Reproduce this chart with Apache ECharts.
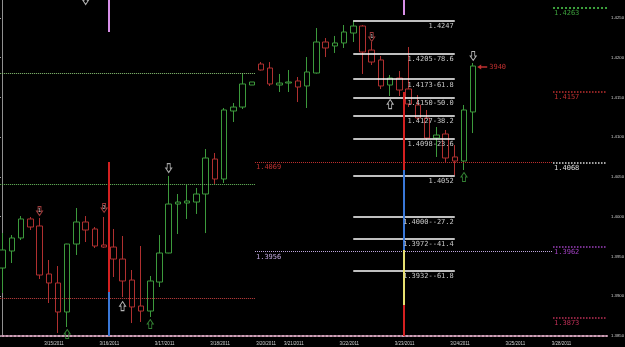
<!DOCTYPE html>
<html><head><meta charset="utf-8">
<script src="https://cdn.jsdelivr.net/npm/echarts@6/dist/echarts.min.js"></script>
<style>html,body{margin:0;padding:0;background:#000;}#c{width:625px;height:347px;}</style>
</head><body><div id="c"></div>
<script>
// ---- data (4H bars) : [open, close, low, high]
const candles = [
 [1.39355,1.39582,1.39041,1.39795],[1.39569,1.39733,1.39418,1.39770],[1.39733,1.39972,1.39707,1.40009],
 [1.39972,1.39871,1.39833,1.39997],[1.39884,1.39267,1.39217,1.39984],[1.39280,1.39167,1.38915,1.39456],
 [1.39167,1.38802,1.38538,1.39380],[1.38802,1.39657,1.38613,1.39660],[1.39657,1.39934,1.39519,1.40110],
 [1.39934,1.39833,1.39682,1.40009],[1.39846,1.39632,1.39607,1.39871],[1.39645,1.39619,1.39610,1.39997],
 [1.39619,1.39468,1.39242,1.39846],[1.39468,1.39192,1.38990,1.39758],[1.39204,1.38865,1.38663,1.39330],
 [1.38877,1.38814,1.38676,1.39632],[1.38814,1.39192,1.38739,1.39255],[1.39179,1.39544,1.39116,1.39770],
 [1.39544,1.40160,1.39540,1.40513],[1.40160,1.40185,1.39783,1.40286],[1.40173,1.40198,1.39972,1.40399],
 [1.40185,1.40286,1.40035,1.40362],[1.40286,1.40739,1.39795,1.40852],[1.40726,1.40475,1.40412,1.40802],
 [1.40475,1.41343,1.40424,1.41368],[1.41330,1.41380,1.41192,1.41431],[1.41380,1.41670,1.41355,1.41808],
 [1.41657,1.41695,1.41657,1.41695],[1.41921,1.41846,1.41840,1.41946],[1.41871,1.41670,1.41645,1.41946],
 [1.41657,1.41682,1.41569,1.41796],[1.41682,1.41695,1.41569,1.41846],[1.41708,1.41632,1.41443,1.41758],
 [1.41645,1.41821,1.41368,1.42009],[1.41808,1.42198,1.41800,1.42374],[1.42198,1.42123,1.42009,1.42248],
 [1.42148,1.42186,1.42060,1.42274],[1.42186,1.42324,1.42123,1.42412],[1.42311,1.42399,1.42198,1.42470],
 [1.42399,1.42072,1.41796,1.42412],[1.42097,1.41946,1.41909,1.42198],[1.41972,1.41645,1.41607,1.42022],
 [1.41657,1.41745,1.41519,1.41783],[1.41745,1.41594,1.41519,1.41833],[1.41607,1.41418,1.41380,1.42135],
 [1.41406,1.41242,1.41217,1.41531],[1.41242,1.40990,1.40965,1.41343],[1.40990,1.41028,1.40752,1.41129],
 [1.41041,1.40739,1.40689,1.41091],[1.40752,1.40701,1.40520,1.40902],[1.40701,1.41343,1.40588,1.41406],
 [1.41318,1.41896,1.41053,1.41934]
];
const nSlots = 66;
const yMin = 1.3850, yMax = 1.427264, yStep = 0.005;
const dateSlots  = [5, 11, 17, 23, 28, 31, 37, 43, 49, 55, 60];
const dateLabels = ['3/15/2011','3/16/2011','3/17/2011','3/18/2011','3/20/2011','3/21/2011','3/22/2011','3/23/2011','3/24/2011','3/25/2011','3/28/2011'];

// horizontal levels (price, colour, label)
const leftSpan  = [0.2, 27.85];
const leftPrices = [1.4180, 1.4041, 1.3897];
const leftColors = ['#8cc878', '#6cc060', '#c84040'];
const midSpan  = [27.85, 60.15];
const midPrices = [1.4069, 1.3956];
const midColors = ['#c03030', '#c0a8e0'];
const midLabels = ['1.4069', '1.3956'];
const rightSpan = [60.15, 66];
const rightPrices = [1.4263, 1.4157, 1.4068, 1.3962, 1.3873];
const rightColors = ['#3ca03c', '#c03030', '#e0e0e0', '#a040c0', '#c03058'];
const rightLabels = ['1.4263', '1.4157', '1.4068', '1.3962', '1.3873'];
// fibonacci levels
const fibSpan = [38.5, 49.5];
const fibPrices = [1.4247, 1.4205, 1.4173, 1.4150, 1.4127, 1.4098, 1.4052, 1.4000, 1.3972, 1.3932];
const fibLabels = ['1.4247','1.4205-78.6','1.4173-61.8','1.4150-50.0','1.4127-38.2','1.4098-23.6','1.4052','1.4000--27.2','1.3972--41.4','1.3932--61.8'];
// vertical coloured segments: slot, from price, to price, colour
const vSlots  = [12, 12, 12, 44, 44, 44, 44, 44];
const vFrom   = [yMax, 1.40689, 1.39053, yMax, 1.41569, 1.40588, 1.39582, 1.38890];
const vTo     = [1.42324, 1.39053, yMin, 1.42538, 1.40588, 1.39582, 1.38890, yMin];
const vColors = ['#d890e8', '#d42020', '#3a78d8', '#d890e8', '#d42020', '#3a78d8', '#e8e070', '#d42020'];
// fractal arrows
const downIdx = [9, 18, 4, 11, 40, 51];
const downPrice = [1.42726, 1.40613, 1.40072, 1.40110, 1.42261, 1.42022];
const downColor = ['#e0e0e0', '#d0d0d0', '#c04848', '#c04848', '#c04848', '#e0e0e0'];
const downText = ['', '', '1', '2', '1', ''];
const upIdx = [7, 13, 16, 42, 50];
const upPrice = [1.38525, 1.38877, 1.38651, 1.41418, 1.40500];
const upColor = ['#40a040', '#e0e0e0', '#40a040', '#e0e0e0', '#40a040'];
const lastNote = '3940';

const mono = 'DejaVu Sans Mono';
const small = 'Liberation Sans';
const cats = Array.from({length: nSlots}, (_, i) => String(i));
const downPath = 'path://M2,0 L6,0 L6,5 L8,5 L4,10 L0,5 L2,5 Z';
const upPath = 'path://M4,0 L8,5 L6,5 L6,10 L2,10 L2,5 L0,5 Z';

const marks = [];
function seg(span, price, color, type, width, label, pos, labelColor) {
  const a = {coord: [span[0], price], lineStyle: {color: color, type: type, width: width}};
  if (label) a.label = {show: true, formatter: label, position: pos, color: labelColor || color, fontSize: 7, fontFamily: mono, distance: [1, 2]};
  marks.push([a, {coord: [span[1], price]}]);
}
leftPrices.forEach((p, i) => seg(leftSpan, p, leftColors[i], 'dotted', 1));
midPrices.forEach((p, i) => seg(midSpan, p, midColors[i], 'dotted', 1, midLabels[i], 'insideStartBottom'));
rightPrices.forEach((p, i) => seg(rightSpan, p, rightColors[i], 'dotted', i === 0 ? 2 : 1.5, rightLabels[i], 'insideStartBottom'));
fibPrices.forEach((p, i) => seg(fibSpan, p, '#ffffff', 'solid', 1.5, fibLabels[i], 'insideEndBottom', '#c8c8c8'));
vSlots.forEach((s, i) => marks.push([{coord: [s, vFrom[i]], lineStyle: {color: vColors[i], width: 2, type: 'solid'}}, {coord: [s, vTo[i]]}]));

const arrows = [];
downIdx.forEach((x, i) => arrows.push({value: [x, downPrice[i]], symbol: downPath, symbolSize: [6, 9],
  itemStyle: {color: 'rgba(0,0,0,0)', borderColor: downColor[i], borderWidth: 1},
  label: {show: !!downText[i], formatter: downText[i], position: 'inside', color: '#fff', fontSize: 5, fontFamily: mono}}));
upIdx.forEach((x, i) => arrows.push({value: [x, upPrice[i]], symbol: upPath, symbolSize: [6, 9],
  itemStyle: {color: 'rgba(0,0,0,0)', borderColor: upColor[i], borderWidth: 1}, label: {show: false}}));

const last = candles[candles.length - 1];
const dateMap = {};
dateSlots.forEach((s, i) => dateMap[s] = dateLabels[i]);

const chart = echarts.init(document.getElementById('c'), null, {renderer: 'canvas'});
chart.setOption({
  backgroundColor: '#000',
  animation: false,
  grid: {left: -2, right: 18, top: 0, bottom: 11, outerBoundsMode: 'none', containLabel: false},
  xAxis: [
    {type: 'category', data: cats, boundaryGap: true, position: 'bottom',
     axisLine: {onZero: false, lineStyle: {color: '#d0a0b8', type: 'dotted', width: 2}},
     axisTick: {show: false}, axisLabel: {show: false}, splitLine: {show: false}},
    {type: 'value', min: 0, max: nSlots, interval: 1, position: 'bottom',
     axisLine: {show: false}, axisTick: {show: false}, splitLine: {show: false},
     axisLabel: {formatter: v => dateMap[v] || '', color: '#d0d0d0', fontSize: 4.5, fontFamily: small, align: 'left', margin: 5}}
  ],
  yAxis: [
    {type: 'value', position: 'right', min: yMin, max: yMax, interval: yStep, scale: true,
     axisLine: {show: true, lineStyle: {color: '#a0a0a0'}},
     axisTick: {show: true, length: 3, lineStyle: {color: '#a0a0a0'}},
     splitLine: {show: false},
     axisLabel: {showMaxLabel: false, formatter: v => v.toFixed(4), color: '#d0d0d0', fontSize: 4.3, fontFamily: small, margin: 4}},
    {type: 'value', position: 'left', offset: -4, min: yMin, max: yMax, scale: true,
     axisLine: {show: true, lineStyle: {color: '#909090', width: 1}}, axisTick: {show: false}, axisLabel: {show: false}, splitLine: {show: false}}
  ],
  series: [
    {type: 'candlestick', xAxisIndex: 0, yAxisIndex: 0, data: candles, barWidth: 6,
     itemStyle: {color: '#000', color0: '#000', borderColor: '#3c9a3c', borderColor0: '#b03030', borderWidth: 1},
     markPoint: {silent: true, data: [{coord: [candles.length - 1, last[1]], symbol: 'path://M0,3 L4,0 L4,2 L10,2 L10,4 L4,4 L4,6 Z',
       symbolSize: [10, 5], symbolOffset: [9, 1], itemStyle: {color: '#c03030'},
       label: {show: true, position: 'right', formatter: lastNote, color: '#c03030', fontSize: 7, fontFamily: mono, distance: 2}}]},
     markLine: {silent: true, symbol: 'none', data: [{yAxis: last[1], lineStyle: {opacity: 0},
       label: {show: true, position: 'end', formatter: last[1].toFixed(4), backgroundColor: '#fff', color: '#000', fontSize: 4.3, fontFamily: small, padding: [1, 2], distance: 1}}]}},
    {type: 'line', xAxisIndex: 1, yAxisIndex: 0, data: [], silent: true,
     markLine: {silent: true, symbol: 'none', label: {show: false}, data: marks}},
    {type: 'scatter', xAxisIndex: 0, yAxisIndex: 0, data: arrows, silent: true}
  ]
});
</script></body></html>
